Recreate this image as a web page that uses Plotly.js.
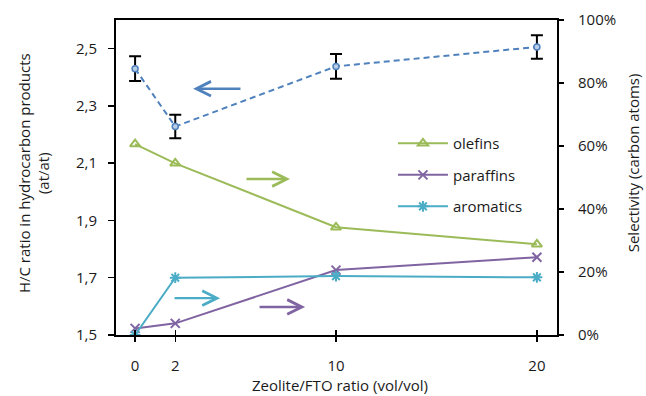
<!DOCTYPE html>
<html>
<head>
<meta charset="utf-8">
<script src="https://cdn.plot.ly/plotly-3.0.1.min.js"></script>
<style>html,body{margin:0;padding:0;background:#fff;}#chart{width:646px;height:396px;}</style>
</head>
<body>
<div id="chart"></div>
<script>
// Data
const ratio = [0, 2, 10, 20];
const hcRatio = [2.43, 2.228, 2.438, 2.506];
const hcError = [0.043, 0.041, 0.043, 0.041];
const olefins = [0.606, 0.545, 0.342, 0.288];
const paraffins = [0.021, 0.037, 0.206, 0.247];
const aromatics = [0.0, 0.182, 0.187, 0.183];
const xTicks = [0, 2, 10, 20];
const yTicks = [1.5, 1.7, 1.9, 2.1, 2.3, 2.5];
const y2Ticks = [0, 0.2, 0.4, 0.6, 0.8, 1.0];

const FONT = '"Open Sans", Lato, sans-serif';
const FS = 15;
const TXT = '#1a1a1a';
const BLUE = '#4F81BD', GREEN = '#9BBB59', PURPLE = '#8064A2', CYAN = '#4BACC6';

const traces = [
  {
    x: ratio, y: hcRatio, type: 'scatter', mode: 'lines+markers', name: 'H/C', showlegend: false,
    line: {color: BLUE, width: 2, dash: '6px,4px'},
    marker: {symbol: 'circle', size: 6, color: '#b9cde5', line: {color: BLUE, width: 1.5}},
    error_y: {type: 'data', array: hcError, visible: true, color: '#000', thickness: 2, width: 6},
    xaxis: 'x', yaxis: 'y'
  },
  {
    x: ratio, y: olefins, type: 'scatter', mode: 'lines+markers', name: 'olefins',
    line: {color: GREEN, width: 2},
    marker: {symbol: 'triangle-up-open', size: 9, color: GREEN, line: {color: GREEN, width: 2}},
    xaxis: 'x', yaxis: 'y2', legendgroup: 'a'
  },
  {
    x: ratio, y: paraffins, type: 'scatter', mode: 'lines+markers', name: 'paraffins',
    line: {color: PURPLE, width: 2},
    marker: {symbol: 'x-thin-open', size: 9, color: PURPLE, line: {color: PURPLE, width: 2}},
    xaxis: 'x', yaxis: 'y2', legendgroup: 'b'
  },
  {
    x: ratio, y: aromatics, type: 'scatter', mode: 'lines+markers', name: 'aromatics',
    line: {color: CYAN, width: 2},
    marker: {symbol: 'asterisk-open', size: 9, color: CYAN, line: {color: CYAN, width: 2}},
    xaxis: 'x', yaxis: 'y2', legendgroup: 'c'
  },
  { x: [], y: [], type: 'scatter', xaxis: 'x2', yaxis: 'y', showlegend: false, hoverinfo: 'skip' }
];

function arrow(x, y, ax, ay, yref, color) {
  return {x: x, y: y, ax: ax, ay: ay, xref: 'x', yref: yref, axref: 'x', ayref: yref,
    text: '', showarrow: true, arrowhead: 5, arrowsize: 1.2, arrowwidth: 2.4, arrowcolor: color, standoff: 0, startstandoff: 0};
}

const layout = {
  width: 646, height: 396,
  margin: {l: 116, r: 89, t: 20, b: 61},
  paper_bgcolor: '#fff', plot_bgcolor: '#fff',
  separators: ',.',
  font: {family: FONT, size: FS, color: TXT},
  showlegend: true,
  legend: {x: 0.628, y: 0.66, xanchor: 'left', yanchor: 'top', bgcolor: 'rgba(0,0,0,0)',
    font: {family: FONT, size: FS, color: TXT}, itemwidth: 50, tracegroupgap: 9, traceorder: 'grouped'},
  xaxis: {
    range: [-0.95, 21], tickvals: xTicks, ticktext: xTicks.map(String),
    showgrid: false, zeroline: false, showline: true, linecolor: '#000', linewidth: 2, mirror: true,
    ticks: 'outside', ticklen: 5, tickwidth: 1.5, tickcolor: '#000', ticklabelstandoff: 11,
    tickfont: {family: FONT, size: FS, color: TXT}
  },
  xaxis2: {
    overlaying: 'x', matches: 'x', anchor: 'y', side: 'bottom', range: [-0.95, 21],
    tickvals: xTicks, showticklabels: false, ticks: 'inside', ticklen: 5, tickwidth: 1.5, tickcolor: '#000',
    showgrid: false, zeroline: false, showline: false
  },
  yaxis: {
    range: [1.5, 2.6], tickvals: yTicks, tickformat: '.1f',
    showgrid: false, zeroline: false, showline: true, linecolor: '#000', linewidth: 2,
    ticks: 'outside', ticklen: 6, tickwidth: 1.5, tickcolor: '#000', ticklabelstandoff: 8,
    tickfont: {family: FONT, size: FS, color: TXT}
  },
  yaxis2: {
    range: [0, 1], tickvals: y2Ticks, tickformat: '.0%', overlaying: 'y', side: 'right', anchor: 'x',
    showgrid: false, zeroline: false, showline: true, linecolor: '#000', linewidth: 2,
    ticks: 'outside', ticklen: 5, tickwidth: 1.5, tickcolor: '#000', ticklabelstandoff: 11,
    tickfont: {family: FONT, size: FS, color: TXT}
  },
  annotations: [
    {text: 'H/C ratio in hydrocarbon products<br>(at/at)', xref: 'paper', yref: 'paper', x: -0.186, y: 0.514,
      textangle: -90, showarrow: false, xanchor: 'center', yanchor: 'middle', font: {family: FONT, size: FS, color: TXT}},
    {text: 'Selectivity (carbon atoms)', xref: 'paper', yref: 'paper', x: 1.173, y: 0.546,
      textangle: -90, showarrow: false, xanchor: 'center', yanchor: 'middle', font: {family: FONT, size: FS, color: TXT}},
    {text: 'Zeolite/FTO ratio (vol/vol)', xref: 'paper', yref: 'paper', x: 0.508, y: -0.16,
      showarrow: false, xanchor: 'center', yanchor: 'middle', font: {family: FONT, size: FS, color: TXT}},
    arrow(2.89, 2.36, 5.32, 2.36, 'y', BLUE),
    arrow(7.71, 0.495, 5.47, 0.495, 'y2', GREEN),
    arrow(4.23, 0.117, 1.89, 0.117, 'y2', CYAN),
    arrow(8.46, 0.089, 6.12, 0.089, 'y2', PURPLE)
  ]
};

Plotly.newPlot('chart', traces, layout, {displayModeBar: false, staticPlot: true});
</script>
</body>
</html>
